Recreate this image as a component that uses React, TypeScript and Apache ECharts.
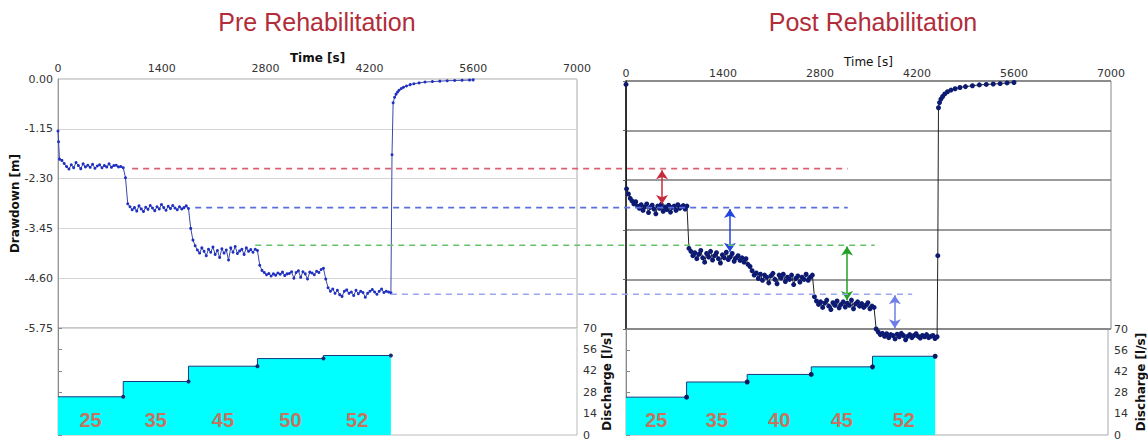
import React, { useEffect, useRef } from 'react';
import * as echarts from 'echarts';

// ---------- data ----------
const timeTicks = [0, 1400, 2800, 4200, 5600, 7000];
const drawdownTicks = [0, -1.15, -2.3, -3.45, -4.6, -5.75];
const dischargeTicks = [0, 14, 28, 42, 56, 70];
const stepBounds = [0, 880, 1760, 2690, 3580, 4490];

const preDischarge = [25, 35, 45, 50, 52];
const postDischarge = [25, 35, 40, 45, 52];
const dischargeLabelLevel = 10;

const preStart = [[0, -1.2], [8, -1.45], [20, -1.85]];
const preStep1 = [-1.88, -1.95, -2.02, -2.08, -1.98, -2.05, -1.93, -2.0, -2.07, -1.96, -2.03, -1.99, -2.04, -1.97, -2.06, -2.01, -1.98, -2.05, -2.0, -2.03, -1.96, -2.04, -2.0, -1.99, -2.03, -2.02, -2.05];
const preStep2 = [-2.28, -2.88, -2.95, -3.02, -2.97, -3.05, -2.93, -3.0, -3.06, -2.96, -3.01, -2.92, -2.98, -3.04, -2.95, -3.0, -2.9, -2.97, -3.03, -2.94, -2.99, -2.92, -2.98, -3.02, -2.95, -3.0, -2.97, -2.93, -2.99];
const preStep3 = [-3.45, -3.72, -3.85, -3.95, -4.02, -3.9, -3.98, -4.08, -3.93, -4.0, -3.88, -4.05, -3.96, -4.12, -3.92, -4.02, -3.95, -4.18, -3.9, -4.0, -3.87, -4.03, -3.97, -3.93, -4.05, -3.9, -3.98, -3.94, -4.0, -3.93, -3.96];
const preStep4 = [-4.3, -4.42, -4.47, -4.52, -4.49, -4.55, -4.5, -4.53, -4.48, -4.51, -4.46, -4.54, -4.5, -4.49, -4.45, -4.6, -4.47, -4.43, -4.58, -4.45, -4.5, -4.62, -4.46, -4.48, -4.52, -4.44, -4.47, -4.4, -4.37];
const preStep5 = [-4.62, -4.82, -4.9, -4.85, -4.95, -4.88, -4.98, -5.02, -4.9, -4.87, -4.95, -4.92, -5.0, -4.88, -4.96, -4.9, -4.93, -5.04, -4.95, -4.9, -4.86, -4.92, -4.97, -4.9, -4.85, -4.93, -4.9, -4.92, -4.94];
const preRecoveryT = [4505, 4520, 4540, 4560, 4580, 4600, 4630, 4660, 4700, 4750, 4800, 4870, 4950, 5050, 5150, 5250, 5350, 5450, 5550, 5600];
const preRecoveryV = [-1.75, -0.55, -0.42, -0.35, -0.3, -0.26, -0.22, -0.19, -0.16, -0.13, -0.11, -0.09, -0.07, -0.06, -0.05, -0.04, -0.035, -0.03, -0.025, -0.02];

const postStart = [[0, -0.08], [8, -2.5]];
const postStep1 = [-2.62, -2.72, -2.78, -2.85, -2.8, -2.9, -2.95, -2.87, -3.0, -2.92, -2.85, -3.05, -2.93, -2.88, -2.97, -3.08, -2.9, -2.95, -2.86, -3.02, -2.92, -2.98, -2.88, -3.04, -2.93, -2.9, -3.0, -2.87, -2.95, -2.92, -2.89, -2.97, -2.9];
const postStep2 = [-3.88, -3.95, -4.05, -3.98, -4.12, -4.02, -3.93, -4.1, -4.2, -4.0, -4.08, -3.95, -4.15, -4.05, -3.98, -4.12, -4.22, -4.03, -4.1, -3.97, -4.14, -4.08, -4.0, -4.18, -4.1, -4.05, -4.16, -4.1, -4.2, -4.12, -4.25];
const postStep3 = [-4.3, -4.4, -4.5, -4.45, -4.58, -4.48, -4.62, -4.5, -4.55, -4.68, -4.52, -4.46, -4.6, -4.7, -4.5, -4.57, -4.48, -4.65, -4.55, -4.6, -4.5, -4.72, -4.58, -4.52, -4.66, -4.55, -4.6, -4.48, -4.62, -4.55, -4.5];
const postStep4 = [-5.0, -5.1, -5.18, -5.12, -5.25, -5.15, -5.08, -5.22, -5.3, -5.14, -5.2, -5.1, -5.26, -5.18, -5.12, -5.24, -5.15, -5.2, -5.08, -5.28, -5.17, -5.12, -5.22, -5.16, -5.25, -5.2, -5.14, -5.28, -5.22, -5.25];
const postStep5 = [-5.75, -5.82, -5.88, -5.85, -5.92, -5.86, -5.95, -5.88, -5.9, -5.98, -5.87, -5.93, -5.85, -5.9, -6.0, -5.92, -5.88, -5.95, -5.9, -5.86, -5.92, -5.96, -5.9, -5.93, -5.88, -5.95, -5.92, -5.9, -5.97, -5.93];
const postRecoveryT = [4500, 4510, 4525, 4545, 4570, 4600, 4640, 4690, 4750, 4820, 4900, 5000, 5100, 5200, 5300, 5400, 5500, 5600];
const postRecoveryV = [-4.05, -0.62, -0.5, -0.42, -0.36, -0.3, -0.25, -0.21, -0.18, -0.15, -0.13, -0.11, -0.09, -0.08, -0.07, -0.06, -0.045, -0.035];

// reference (pre-rehab) levels carried across to the post-rehab panel
const refLevels = [-2.07, -2.97, -3.84, -4.97];
const refStartPre = [1000, 1850, 2660, 4490];
const refEndPost = [3200, 3200, 3590, 4130];
const refColors = ['#d9606e', '#5a6ee0', '#66c266', '#9aa6ee'];

// improvement arrows in post-rehab panel: time, from level, to level
const arrowT = [520, 1500, 3190, 3880];
const arrowFrom = [-2.07, -2.97, -3.84, -4.97];
const arrowTo = [-2.85, -3.96, -5.08, -5.73];
const arrowColors = ['#c8283c', '#2244e0', '#22a022', '#6f7fe8'];

// ---------- helpers ----------
function buildDrawdown(start: number[][], steps: number[][], recT: number[], recV: number[]) {
  const out: number[][] = start.map((p) => [p[0], p[1]]);
  steps.forEach((vals, i) => {
    const a = i === 0 ? start[start.length - 1][0] : stepBounds[i];
    const b = stepBounds[i + 1];
    vals.forEach((v, j) => out.push([a + ((b - a) * (j + 1)) / vals.length, v]));
  });
  recT.forEach((t, i) => out.push([t, recV[i]]));
  return out;
}

function buildDischarge(q: number[]) {
  const d: any[] = [{ value: [0, q[0]], symbol: 'none' }];
  for (let i = 0; i < q.length; i++) {
    d.push({ value: [stepBounds[i + 1], q[i]] });
  }
  return d;
}

const FONT = 'DejaVu Sans';

export default function App() {
  const ref = useRef<HTMLDivElement>(null);
  useEffect(() => {
    if (!ref.current) return;
    const chart = echarts.init(ref.current, undefined, { renderer: 'svg' });

    const preData = buildDrawdown(preStart, [preStep1, preStep2, preStep3, preStep4, preStep5], preRecoveryT, preRecoveryV);
    const postData = buildDrawdown(postStart, [postStep1, postStep2, postStep3, postStep4, postStep5], postRecoveryT, postRecoveryV);

    const xTop = (grid: number, nameGap: number, bold: boolean, margin: number, shift: number) => ({
      type: 'value', gridIndex: grid, min: timeTicks[0], max: timeTicks[timeTicks.length - 1],
      interval: timeTicks[1] - timeTicks[0], position: 'top',
      name: 'Time [s]', nameLocation: 'middle', nameGap, nameMoveOverlap: false,
      nameTextStyle: { fontFamily: FONT, fontSize: 12, fontWeight: bold ? 'bold' : 'normal', color: '#111', padding: [0, 0, -shift, 0] },
      axisLabel: { fontFamily: FONT, fontSize: 11, color: '#333', margin, formatter: (v: number) => String(v) },
      axisTick: { show: false },
      axisLine: { show: false },
      splitLine: { show: false },
    });
    const xBottom = (grid: number) => ({
      type: 'value', gridIndex: grid, min: timeTicks[0], max: timeTicks[timeTicks.length - 1],
      axisLabel: { show: false }, axisTick: { show: false }, axisLine: { show: false }, splitLine: { show: false },
    });
    const yDischarge = (grid: number, gap: number) => ({
      type: 'value', gridIndex: grid, position: 'right', min: dischargeTicks[0], max: dischargeTicks[dischargeTicks.length - 1],
      interval: dischargeTicks[1] - dischargeTicks[0],
      name: 'Discharge [l/s]', nameLocation: 'middle', nameRotate: 90, nameGap: gap,
      nameTextStyle: { fontFamily: FONT, fontSize: 12, fontWeight: 'bold', color: '#111' },
      axisLabel: { fontFamily: FONT, fontSize: 11, color: '#333', margin: 6 },
      axisTick: { show: true, length: 4, lineStyle: { color: '#888' } },
      axisLine: { show: true, lineStyle: { color: '#888' } },
      splitLine: { show: false },
    });

    const markLineData = arrowT.map((t, i) => [
      { coord: [t, arrowFrom[i]], lineStyle: { color: arrowColors[i], width: 1.5, type: 'solid' }, itemStyle: { color: arrowColors[i] } },
      { coord: [t, arrowTo[i]] },
    ]);

    const option: any = {
      animation: false,
      backgroundColor: '#fff',
      title: [
        { text: 'Pre Rehabilitation', left: 312, top: 4, textAlign: 'center', textStyle: { fontFamily: 'Liberation Sans', fontSize: 25, fontWeight: 'normal', color: '#b22d3a' } },
        { text: 'Post Rehabilitation', left: 868, top: 4, textAlign: 'center', textStyle: { fontFamily: 'Liberation Sans', fontSize: 25, fontWeight: 'normal', color: '#b22d3a' } },
      ],
      grid: [
        { left: 58, top: 79, width: 519, height: 249, show: true, borderColor: '#aaa', borderWidth: 1 },
        { left: 58, top: 328, width: 519, height: 107, show: true, borderColor: '#bbb', borderWidth: 1 },
        { left: 626, top: 81, width: 485, height: 248, show: true, borderColor: '#888', borderWidth: 1 },
        { left: 626, top: 329, width: 485, height: 106, show: true, borderColor: '#aaa', borderWidth: 1 },
      ],
      xAxis: [xTop(0, 20, true, 5, 5), xTop(2, 16, false, 2, 3), xBottom(1), xBottom(3)],
      yAxis: [
        {
          type: 'value', gridIndex: 0, min: drawdownTicks[drawdownTicks.length - 1], max: drawdownTicks[0], interval: 1.15,
          name: 'Drawdown [m]', nameLocation: 'middle', nameGap: 32,
          nameTextStyle: { fontFamily: FONT, fontSize: 12, fontWeight: 'bold', color: '#111' },
          axisLabel: { fontFamily: FONT, fontSize: 11, color: '#333', margin: 5, formatter: (v: number) => v.toFixed(2) },
          axisTick: { show: false },
          axisLine: { show: true, lineStyle: { color: '#999' } },
          splitLine: { show: true, lineStyle: { color: '#d6d6d6', width: 1 } },
        },
        yDischarge(1, 24),
        {
          type: 'value', gridIndex: 2, min: drawdownTicks[drawdownTicks.length - 1], max: drawdownTicks[0], interval: 1.15,
          axisLabel: { show: false },
          axisTick: { show: true, length: 3, lineStyle: { color: '#666' } },
          axisLine: { show: true, lineStyle: { color: '#111', width: 1.5 } },
          splitLine: { show: true, lineStyle: { color: '#7a7a7a', width: 1.5 } },
        },
        yDischarge(3, 27),
      ],
      series: [
        {
          type: 'line', xAxisIndex: 0, yAxisIndex: 0, data: preData,
          symbol: 'circle', symbolSize: 3, showSymbol: true,
          itemStyle: { color: '#1f2fc0' }, lineStyle: { color: '#3a48a8', width: 1 },
        },
        {
          type: 'line', xAxisIndex: 2, yAxisIndex: 1, data: buildDischarge(preDischarge), step: 'start',
          symbol: 'circle', symbolSize: 4, itemStyle: { color: '#1a2a70' },
          lineStyle: { color: '#1a3a80', width: 1 }, areaStyle: { color: '#00ffff', opacity: 1 },
        },
        {
          type: 'line', xAxisIndex: 1, yAxisIndex: 2, data: postData, clip: false,
          symbol: 'circle', symbolSize: 5, showSymbol: true,
          itemStyle: { color: '#0c1a72' }, lineStyle: { color: '#222', width: 1 },
          markLine: { silent: true, symbol: ['arrow', 'arrow'], symbolSize: 9, label: { show: false }, data: markLineData },
        },
        {
          type: 'line', xAxisIndex: 3, yAxisIndex: 3, data: buildDischarge(postDischarge), step: 'start',
          symbol: 'circle', symbolSize: 5, itemStyle: { color: '#0c1a60' },
          lineStyle: { color: '#1a3a80', width: 1 }, areaStyle: { color: '#00ffff', opacity: 1 },
        },
      ],
    };
    chart.setOption(option);

    // xAxis indices: 0 = pre top, 1 = post top, 2 = pre discharge, 3 = post discharge
    const px = (finder: any, v: number) => chart.convertToPixel(finder, v) as any as number;
    const graphics: any[] = refLevels.map((lv, i) => {
      const y = px({ yAxisIndex: 0 }, lv);
      const x1 = px({ xAxisIndex: 0 }, refStartPre[i]);
      const x2 = px({ xAxisIndex: 1 }, refEndPost[i]);
      return {
        type: 'line', z: 10, silent: true,
        shape: { x1, y1: y, x2, y2: y },
        style: { stroke: refColors[i], lineWidth: 1.6, lineDash: [6, 5] },
      };
    });
    const addLabels = (q: number[], xIdx: number, yIdx: number) => {
      q.forEach((v, i) => {
        const x = px({ xAxisIndex: xIdx }, (stepBounds[i] + stepBounds[i + 1]) / 2);
        const y = px({ yAxisIndex: yIdx }, dischargeLabelLevel);
        graphics.push({
          type: 'text', z: 20, silent: true, x, y,
          style: { text: String(v), fill: '#c4745f', font: 'bold 20px "Liberation Sans"', align: 'center', verticalAlign: 'middle' },
        });
      });
    };
    addLabels(preDischarge, 2, 1);
    addLabels(postDischarge, 3, 3);
    chart.setOption({ graphic: graphics });

    return () => chart.dispose();
  }, []);

  return <div ref={ref} style={{ position: 'fixed', left: 0, top: 0, width: 1148, height: 443 }} />;
}
